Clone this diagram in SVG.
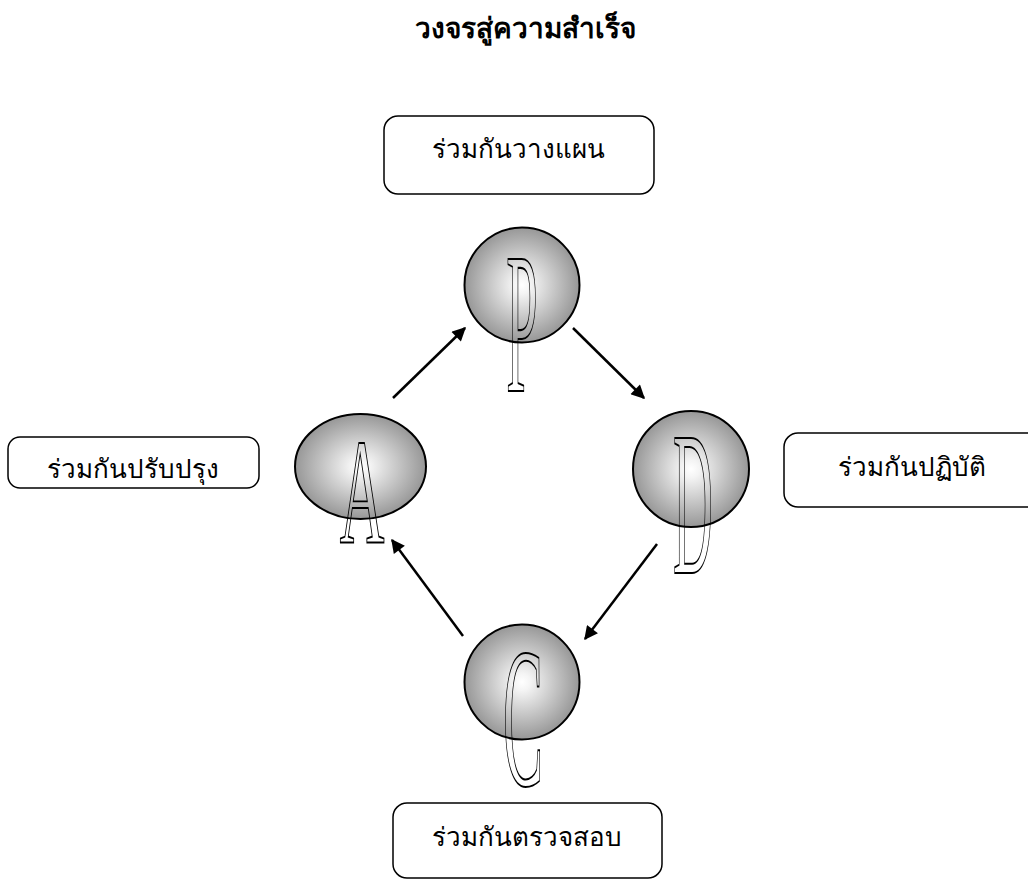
<svg xmlns="http://www.w3.org/2000/svg" width="1028" height="881" viewBox="0 0 1028 881">
<style>
.box{fill:#fff;stroke:#000;stroke-width:1.5}
.lbl{font-family:"Noto Sans","DejaVu Sans","Liberation Sans",sans-serif;font-size:26px;fill:#000;text-anchor:middle}
.title{font-family:"Noto Sans","DejaVu Sans","Liberation Sans",sans-serif;font-size:28px;font-weight:bold;fill:#000;text-anchor:middle}
.ball{fill:url(#g);stroke:#000;stroke-width:2}
.let{font-family:"Liberation Serif",serif;fill:none;stroke:#000;stroke-width:1.5;text-anchor:middle;vector-effect:non-scaling-stroke}
.con{stroke:#000;stroke-width:2.5;fill:none;marker-end:url(#ah)}
</style>
<defs>
<radialGradient id="g" cx="0.5" cy="0.5" r="0.5">
<stop offset="0" stop-color="#ffffff"/>
<stop offset="0.15" stop-color="#f4f4f4"/>
<stop offset="1" stop-color="#979797"/>
</radialGradient>
<marker id="ah" viewBox="0 0 10 10" refX="9" refY="5" markerWidth="6.5" markerHeight="5.5" markerUnits="strokeWidth" orient="auto">
<path d="M0,0 L10,5 L0,10 z" fill="#000"/>
</marker>
</defs>
<text class="title" x="525" y="38">วงจรสู่ความสำเร็จ</text>
<g id="plan">
<rect class="box" x="384" y="116" width="270" height="78" rx="14"/>
<text class="lbl" x="518" y="158">ร่วมกันวางแผน</text>
</g>
<g id="do">
<rect class="box" x="784" y="433" width="260" height="74" rx="14"/>
<text class="lbl" x="912" y="476">ร่วมกันปฏิบัติ</text>
</g>
<g id="check">
<rect class="box" x="393" y="803" width="269" height="75" rx="14"/>
<text class="lbl" x="527" y="846">ร่วมกันตรวจสอบ</text>
</g>
<g id="act">
<rect class="box" x="8" y="437" width="251" height="51" rx="12"/>
<text class="lbl" x="133" y="478">ร่วมกันปรับปรุง</text>
</g>
<g id="P">
<circle class="ball" cx="522" cy="285" r="57.5"/>
<text class="let" font-size="202" transform="translate(522,391) scale(0.28,1)">P</text>
</g>
<g id="D">
<circle class="ball" cx="691" cy="469" r="58"/>
<text class="let" font-size="205" transform="translate(693,573) scale(0.27,1)">D</text>
</g>
<g id="C">
<circle class="ball" cx="522" cy="682" r="57.5"/>
<text class="let" font-size="200" transform="translate(523,785) scale(0.3,1)">C</text>
</g>
<g id="A">
<ellipse class="ball" cx="360.5" cy="466.5" rx="65.5" ry="52.5"/>
<text class="let" font-size="151" transform="translate(362,542) scale(0.41,1)">A</text>
</g>
<g id="connectors">
<line class="con" x1="393" y1="398" x2="465" y2="328"/>
<line class="con" x1="573" y1="328" x2="644" y2="398"/>
<line class="con" x1="657" y1="544" x2="585" y2="639"/>
<line class="con" x1="463" y1="636" x2="392" y2="540"/>
</g>
</svg>
